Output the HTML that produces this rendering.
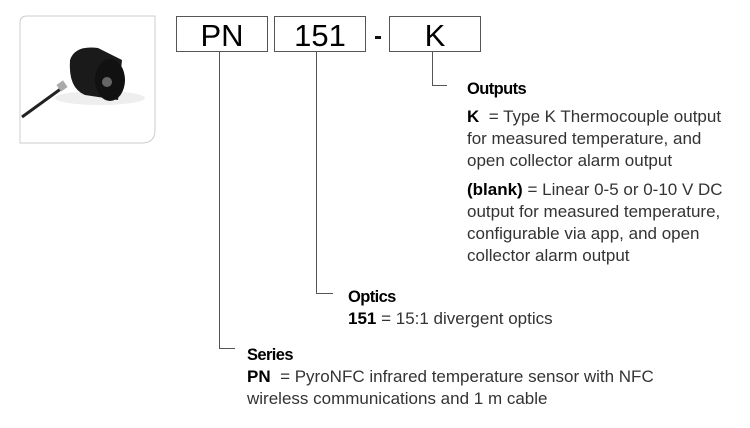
<!DOCTYPE html>
<html><head><meta charset="utf-8"><style>
body{margin:0;width:750px;height:428px;background:#fff;position:relative;overflow:hidden;font-family:"Liberation Sans",Arial,sans-serif;color:#333}
.t{position:absolute;font-size:17px;white-space:nowrap;line-height:22px}
.h{color:#000;font-weight:bold;letter-spacing:-0.6px;font-size:16.5px;font-weight:600}
b{color:#000}
.box{position:absolute;top:16px;height:36px;border:1px solid #555;font-size:31px;text-align:center;line-height:37px;color:#000;box-sizing:border-box}
</style></head><body>
<svg width="750" height="428" style="position:absolute;left:0;top:0">
<path d="M27 16 H155 V130 Q155 143 142 143 H20 V23 Q20 16 27 16Z" fill="#fff" stroke="#ccc" stroke-width="1"/>
<ellipse cx="100" cy="98" rx="45" ry="7" fill="#eee"/>
<path d="M22 117 L62 88" stroke="#222" stroke-width="3"/>
<rect x="58" y="82" width="8" height="8" fill="#aaa" transform="rotate(-35 62 86)"/>
<path d="M70 60 Q75 45 98 48 L122 60 L118 100 L85 95 Q68 88 70 60Z" fill="#1a1a1a"/>
<ellipse cx="110" cy="80" rx="15" ry="21" fill="#111"/>
<ellipse cx="107" cy="82" rx="5" ry="5" fill="#666"/>
<g stroke="#555" stroke-width="1" fill="none">
<path d="M219.5 52 V348.5 H235"/>
<path d="M316.5 52 V293.5 H333"/>
<path d="M432.5 52 V85.5 H447"/>
</g>
<rect x="375" y="36" width="6" height="3" fill="#111"/>
</svg>
<div class="box" style="left:176px;width:92px">PN</div>
<div class="box" style="left:274px;width:92px">151</div>
<div class="box" style="left:389px;width:92px">K</div>
<div class="t h" style="left:467px;top:78px">Outputs</div>
<div class="t" style="left:467px;top:106px"><b>K</b> &nbsp;= Type K Thermocouple output<br>for measured temperature, and<br>open collector alarm output</div>
<div class="t" style="left:467px;top:179px"><b>(blank)</b> = Linear 0-5 or 0-10 V DC<br>output for measured temperature,<br>configurable via app, and open<br>collector alarm output</div>
<div class="t h" style="left:348px;top:286px">Optics</div>
<div class="t" style="left:348px;top:308px"><b>151</b> = 15:1 divergent optics</div>
<div class="t h" style="left:247px;top:344px">Series</div>
<div class="t" style="left:247px;top:366px"><b>PN</b> &nbsp;= PyroNFC infrared temperature sensor with NFC<br>wireless communications and 1 m cable</div>
</body></html>
